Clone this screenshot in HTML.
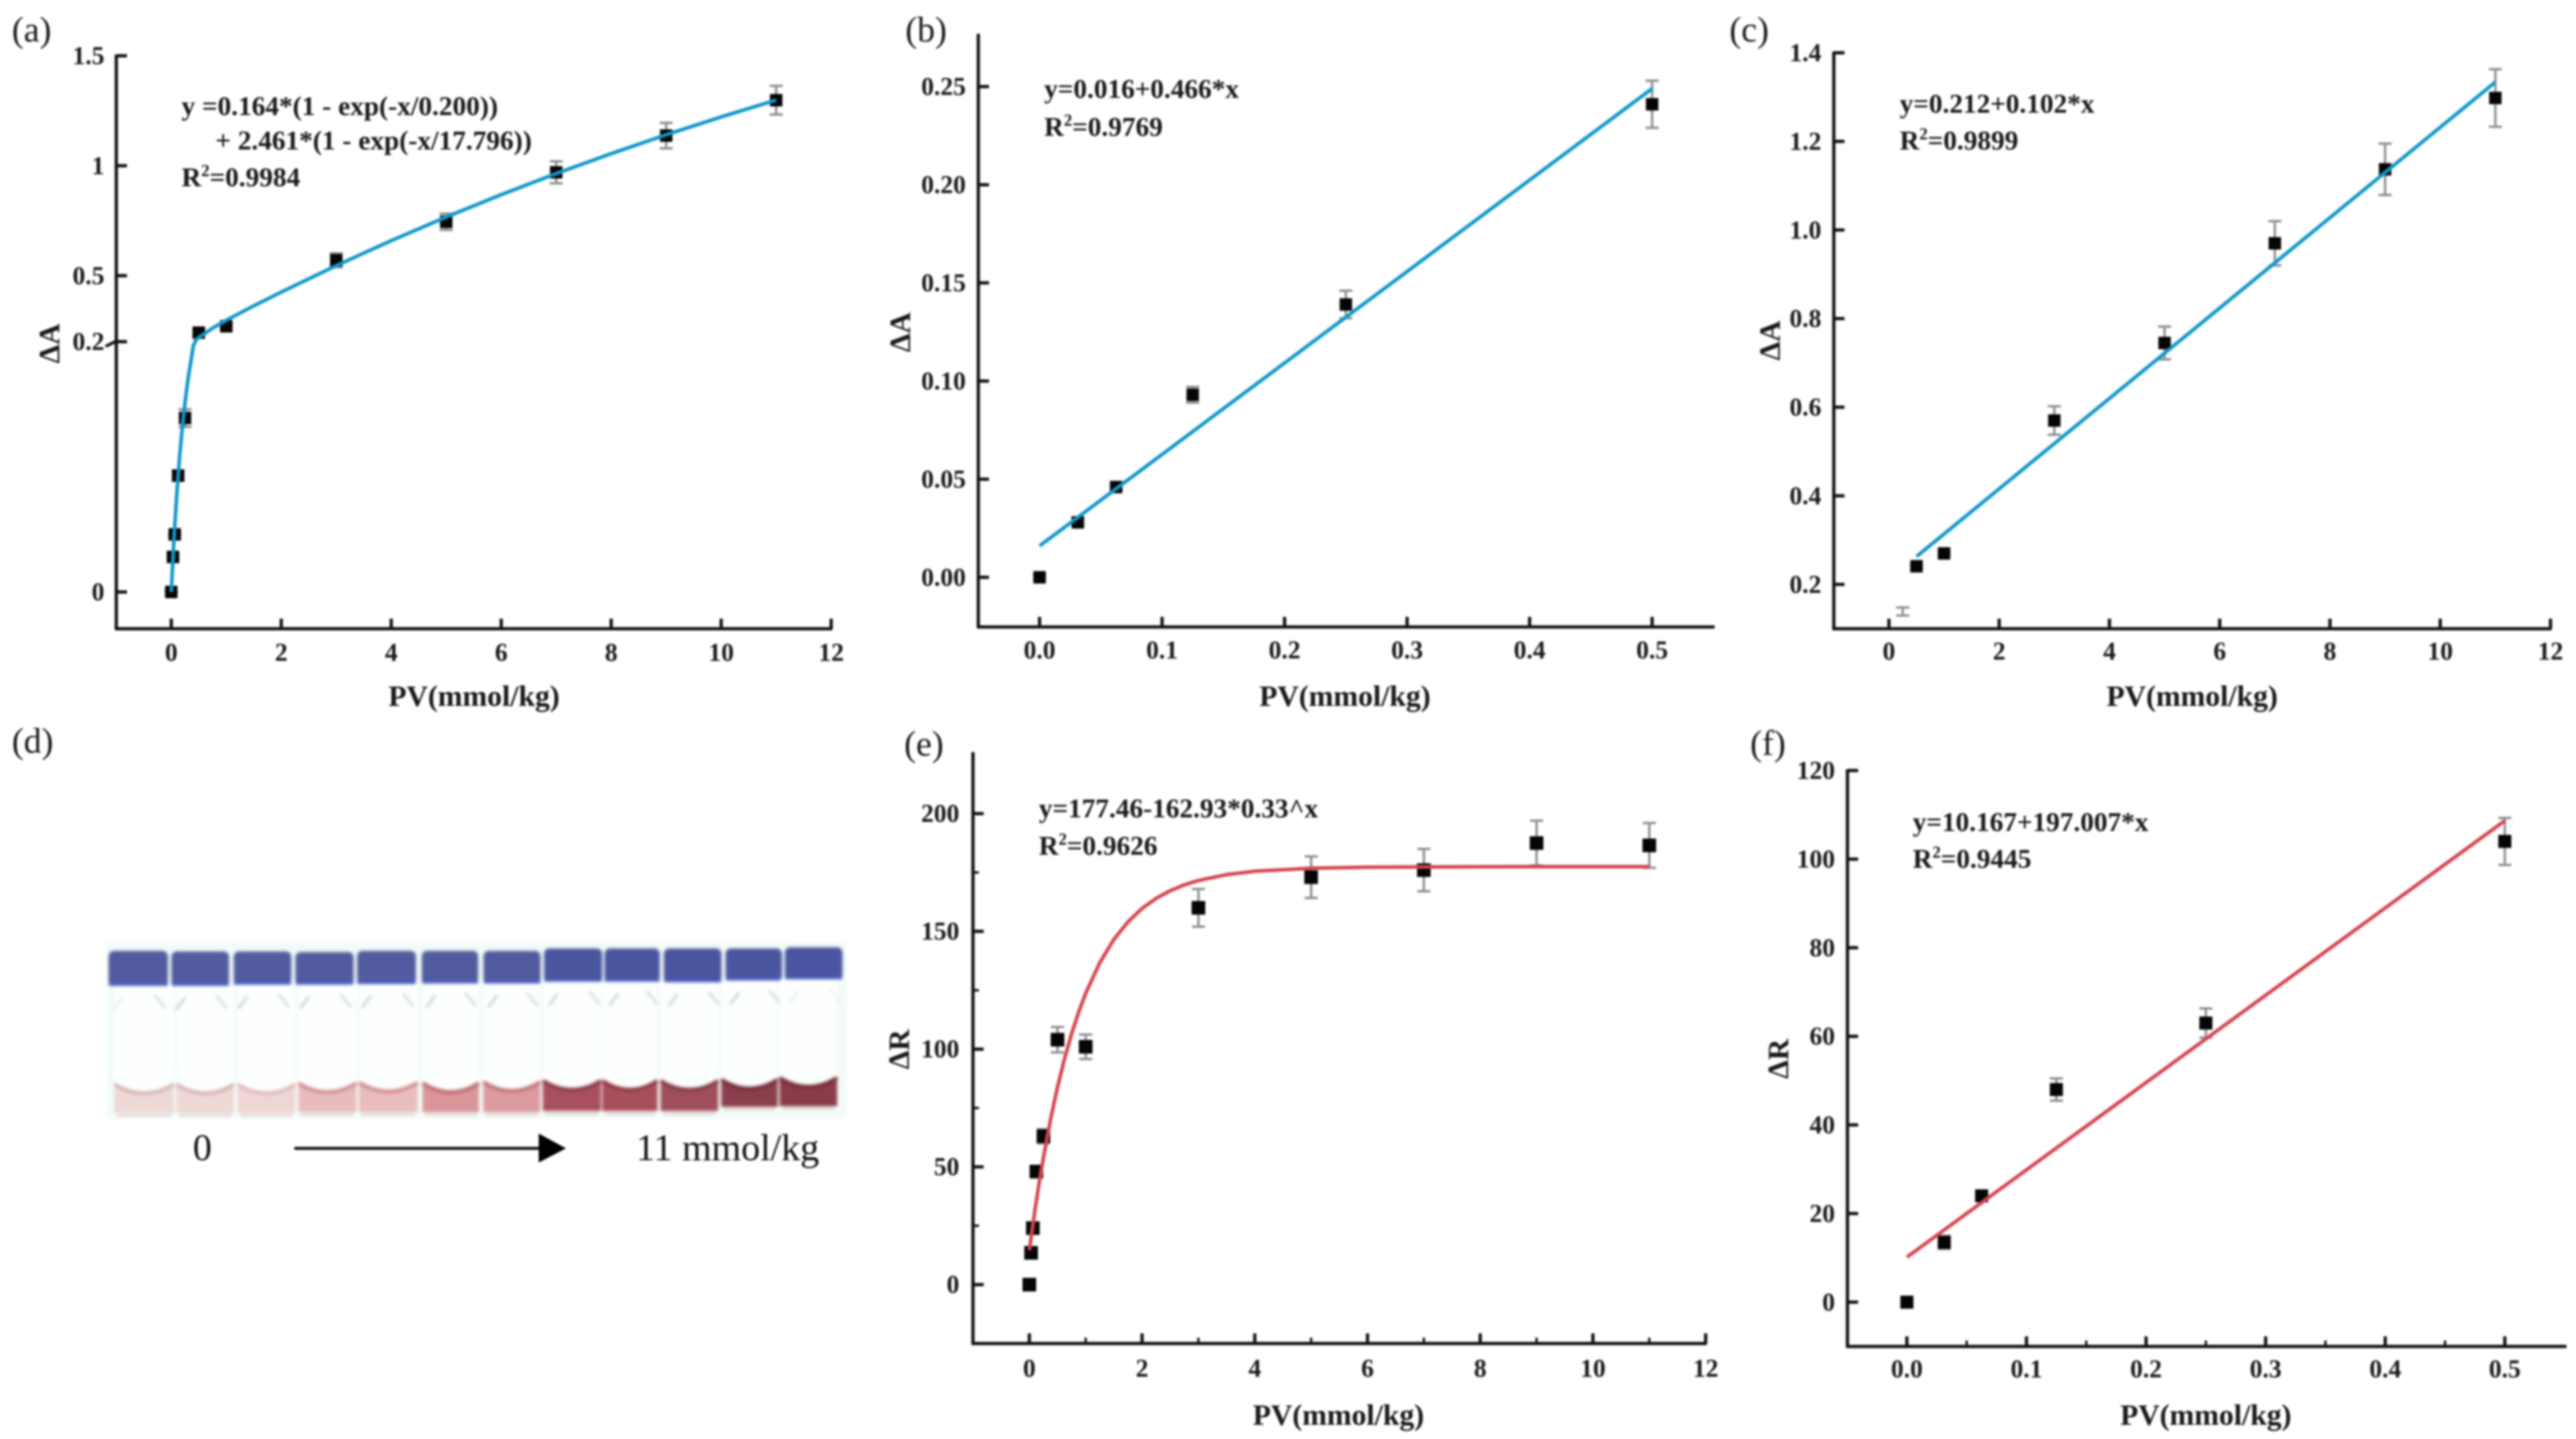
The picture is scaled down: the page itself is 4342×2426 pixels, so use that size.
<!DOCTYPE html>
<html lang="en">
<head>
<meta charset="utf-8">
<title>PV calibration charts</title>
<style>
html,body{margin:0;padding:0;background:#fff;}
#figure{display:block;width:4342px;height:2426px;filter:blur(1.8px);font-family:"Liberation Serif",serif;}
.tick{font-weight:bold;font-size:43px;fill:#1a1a1a;}
.ann{font-weight:bold;font-size:46px;fill:#1a1a1a;}
.axt{font-weight:bold;font-size:50px;fill:#1a1a1a;}
.let{font-size:60px;fill:#1a1a1a;}
.big{font-size:64px;fill:#111;}
</style>
</head>
<body>
<svg id="figure" xmlns="http://www.w3.org/2000/svg" width="4342" height="2426" viewBox="0 0 4342 2426">
  <rect width="4342" height="2426" fill="#fff"/>

  <g id="panel-a">
    <text class="let" x="20" y="70">(a)</text>
    <text class="axt" x="799" y="1190" text-anchor="middle">PV(mmol/kg)</text>
    <text class="axt" transform="translate(100 579) rotate(-90)" text-anchor="middle">ΔA</text>
    <text class="ann" x="306" y="194" xml:space="preserve">y =0.164*(1 - exp(-x/0.200))</text>
    <text class="ann" x="363" y="252" xml:space="preserve">+ 2.461*(1 - exp(-x/17.796))</text>
    <text class="ann" x="306" y="314">R<tspan dy="-17" font-size="28">2</tspan><tspan dy="17">=0.9984</tspan></text>
  </g>

  <g id="panel-b">
    <text class="let" x="1526" y="70">(b)</text>
    <text class="axt" x="2267" y="1190" text-anchor="middle">PV(mmol/kg)</text>
    <text class="axt" transform="translate(1534 560) rotate(-90)" text-anchor="middle">ΔA</text>
    <text class="ann" x="1760" y="165">y=0.016+0.466*x</text>
    <text class="ann" x="1760" y="229">R<tspan dy="-17" font-size="28">2</tspan><tspan dy="17">=0.9769</tspan></text>
  </g>

  <g id="panel-c">
    <text class="let" x="2915" y="70">(c)</text>
    <text class="axt" x="3695" y="1190" text-anchor="middle">PV(mmol/kg)</text>
    <text class="axt" transform="translate(3000 574) rotate(-90)" text-anchor="middle">ΔA</text>
    <text class="ann" x="3202" y="190">y=0.212+0.102*x</text>
    <text class="ann" x="3202" y="252">R<tspan dy="-17" font-size="28">2</tspan><tspan dy="17">=0.9899</tspan></text>
  </g>

  <g id="panel-d">
    <text class="let" x="20" y="1269">(d)</text>
    <g id="vial-photo" style="filter:blur(2.5px)">
      <rect x="181" y="1589" width="1246" height="297" fill="#f3fbf8"/>
    </g>
    <text class="big" x="341" y="1956" text-anchor="middle">0</text>
    <line x1="496" y1="1936" x2="915" y2="1936" stroke="#111" stroke-width="5"/>
    <polygon points="908,1911 954,1936 908,1960" fill="#000"/>
    <text class="big" x="1072" y="1956">11 mmol/kg</text>
  </g>

  <g id="panel-e">
    <text class="let" x="1524" y="1274">(e)</text>
    <text class="axt" x="2256" y="2402" text-anchor="middle">PV(mmol/kg)</text>
    <text class="axt" transform="translate(1532 1769) rotate(-90)" text-anchor="middle">ΔR</text>
    <text class="ann" x="1751" y="1378">y=177.46-162.93*0.33^x</text>
    <text class="ann" x="1751" y="1441">R<tspan dy="-17" font-size="28">2</tspan><tspan dy="17">=0.9626</tspan></text>
  </g>

  <g id="panel-f">
    <text class="let" x="2950" y="1273">(f)</text>
    <text class="axt" x="3718" y="2402" text-anchor="middle">PV(mmol/kg)</text>
    <text class="axt" transform="translate(3014 1785) rotate(-90)" text-anchor="middle">ΔR</text>
    <text class="ann" x="3224" y="1401">y=10.167+197.007*x</text>
    <text class="ann" x="3224" y="1463">R<tspan dy="-17" font-size="28">2</tspan><tspan dy="17">=0.9445</tspan></text>
  </g>
</svg>

<script>
// ---------- chart data ----------
const aXTickLabels = ['0','2','4','6','8','10','12'];
const aYTickLabels = ['0','0.2','0.5','1','1.5'];
const aPv = [0,0.03125,0.0625,0.125,0.25,0.5,1,3,5,7,9,11];
const aDelta = [0,0.028,0.046,0.093,0.139,0.241,0.27,0.57,0.745,0.97,1.137,1.298];
const aError = [0.001,0.002,0.001,0.004,0.007,0.012,0.012,0.032,0.037,0.05,0.058,0.065];
const aFitPv = [0,0.05,0.1,0.15,0.2,0.25,0.3,0.4,0.45,0.5,0.75,1,1.5,2,3,4,5,6,7,8,9,10,11];
const aFitDelta = [0,0.0432,0.0783,0.1072,0.1312,0.1514,0.1686,0.1965,0.2081,0.2187,0.2616,0.2974,0.3628,0.4256,0.5458,0.6594,0.7667,0.8683,0.9643,1.0551,1.1408,1.222,1.2985];

const bXTickLabels = ['0.0','0.1','0.2','0.3','0.4','0.5'];
const bYTickLabels = ['0.00','0.05','0.10','0.15','0.20','0.25'];
const bPv = [0,0.03125,0.0625,0.125,0.25,0.5];
const bDelta = [0,0.028,0.046,0.093,0.139,0.241];
const bError = [0.001,0.002,0.001,0.004,0.007,0.012];
const bFitPv = [0,0.5];
const bFitDelta = [0.016,0.249];

const cXTickLabels = ['0','2','4','6','8','10','12'];
const cYTickLabels = ['0.2','0.4','0.6','0.8','1.0','1.2','1.4'];
const cPv = [0.5,1,3,5,7,9,11];
const cDelta = [0.241,0.27,0.57,0.745,0.97,1.137,1.298];
const cError = [0.004,0.004,0.032,0.037,0.05,0.058,0.065];
const cFitPv = [0.5,11];
const cFitDelta = [0.263,1.334];
const cOrphanPv = [0.25];
const cOrphanDelta = [0.139];
const cOrphanError = [0.009];

const eXTickLabels = ['0','2','4','6','8','10','12'];
const eYTickLabels = ['0','50','100','150','200'];
const eXMinorTicks = [1,3,5,7,9,11];
const eYMinorTicks = [25,75,125,175];
const ePv = [0,0.03125,0.0625,0.125,0.25,0.5,1,3,5,7,9,11];
const eDeltaR = [0,13.5,24,48,63,104,101,160,173,176,187.5,186.5];
const eError = [0.5,1,1,2,3,5.4,5.2,8,8.8,9,9.5,9.5];
const eFitPv = [0,0.05,0.1,0.175,0.25,0.375,0.5,0.625,0.75,0.875,1,1.25,1.5,1.75,2,2.25,2.5,2.75,3,3.5,4,5,6,8,11];
const eFitDeltaR = [14.53,23.32,31.64,43.26,53.97,69.96,83.86,95.98,106.52,115.7,123.69,136.71,146.57,154.05,159.72,164.01,167.27,169.73,171.6,174.1,175.53,176.82,177.25,177.44,177.46];

const fXTickLabels = ['0.0','0.1','0.2','0.3','0.4','0.5'];
const fYTickLabels = ['0','20','40','60','80','100','120'];
const fXMinorTicks = [0.05,0.15,0.25,0.35,0.45];
const fPv = [0,0.03125,0.0625,0.125,0.25,0.5];
const fDeltaR = [0,13.5,24,48,63,104];
const fError = [0.4,1.5,1,2.5,3.3,5.3];
const fFitPv = [0,0.5];
const fFitDeltaR = [10.167,108.67];

// ---------- photo tints ----------
const vialLiquidTints = ['#ecd9d6','#ecd8d5','#eed6d4','#e8bcbc','#e9bcbe','#d9959a','#dc9ba0','#a9505f','#a84f5c','#a04e5c','#8b3f4c','#8a3c48'];
const vialMeniscusTints = ['#d8b5b0','#d8b3ae','#e0b8b6','#d28a8c','#d28a8e','#bd6670','#c06e76','#8a3443','#8a3443','#843442','#6f2a36','#6f2833'];

const NS = 'http://www.w3.org/2000/svg';
function mk(tag, attrs, parent) {
  const el = document.createElementNS(NS, tag);
  for (const k in attrs) el.setAttribute(k, attrs[k]);
  parent.appendChild(el);
  return el;
}

// ---------- axis functions ----------
function linearX(p) { return v => p.left + (v - p.xMin) / (p.xMax - p.xMin) * (p.right - p.left); }
function linearY(p) { return v => p.bottom - (v - p.yMin) / (p.yMax - p.yMin) * (p.bottom - p.top); }
function brokenY(p) {
  return v => v <= p.breakValue
    ? p.zeroPx + (v / p.breakValue) * (p.breakPx - p.zeroPx)
    : p.breakPx + ((v - p.breakValue) / (p.yMax - p.breakValue)) * (p.top - p.breakPx);
}

function drawAxes(p, sx, sy, xLabels, yLabels, xMinor, yMinor) {
  const g = document.getElementById(p.group);
  const yAxis = mk('line', {x1:p.left, y1:p.top - 2, x2:p.left, y2:p.bottom + 2, stroke:'#111', 'stroke-width':5.5}, g);
  
  
  const xAxis = mk('line', {x1:p.left - 2, y1:p.bottom, x2:p.right + 2, y2:p.bottom, stroke:'#111', 'stroke-width':5.5}, g);
  
  

  xLabels.forEach(label => {
    const x = sx(Number(label));
    const tick = mk('line', {x1:x, y1:p.bottom, x2:x, y2:p.bottom - 17, stroke:'#111', 'stroke-width':5.5}, g);
    
    
    const text = mk('text', {x:x, y:p.xLabelY, 'text-anchor':'middle', class:'tick'}, g);
    text.textContent = label;
    
    
  });
  yLabels.forEach(label => {
    const y = sy(Number(label));
    const tick = mk('line', {x1:p.left, y1:y, x2:p.left + 18, y2:y, stroke:'#111', 'stroke-width':5.5}, g);
    
    
    const text = mk('text', {x:p.yLabelX, y:y + 14, 'text-anchor':'end', class:'tick'}, g);
    text.textContent = label;
    
    
  });
  (xMinor || []).forEach(v => {
    const x = sx(v);
    const tick = mk('line', {x1:x, y1:p.bottom, x2:x, y2:p.bottom - 10, stroke:'#111', 'stroke-width':4}, g);
    
    
  });
  (yMinor || []).forEach(v => {
    const y = sy(v);
    const tick = mk('line', {x1:p.left, y1:y, x2:p.left + 10, y2:y, stroke:'#111', 'stroke-width':4}, g);
    
    
  });
}

function drawErrorBars(p, sx, sy, xs, ys, errs) {
  const g = document.getElementById(p.group);
  xs.forEach((xv, i) => {
    const x = sx(xv), hi = sy(ys[i] + errs[i]), lo = sy(ys[i] - errs[i]);
    const bar = mk('path', {
      d:'M' + x + ' ' + hi + 'V' + lo + 'M' + (x - 11) + ' ' + hi + 'H' + (x + 11) + 'M' + (x - 11) + ' ' + lo + 'H' + (x + 11),
      fill:'none', stroke:'#8e8e8e', 'stroke-width':4
    }, g);
    
    
  });
}

function drawMarkers(p, sx, sy, xs, ys) {
  const g = document.getElementById(p.group);
  xs.forEach((xv, i) => {
    const m = mk('rect', {x:sx(xv) - p.marker / 2, y:sy(ys[i]) - p.marker / 2, width:p.marker, height:p.marker, fill:'#050505'}, g);
    
    
  });
}

function drawFit(p, sx, sy, xs, ys) {
  const g = document.getElementById(p.group);
  const pts = xs.map((xv, i) => sx(xv).toFixed(1) + ',' + sy(ys[i]).toFixed(1)).join(' ');
  const line = mk('polyline', {points:pts, fill:'none', stroke:p.fitColor, 'stroke-width':6, 'stroke-linejoin':'round', 'stroke-linecap':'butt'}, g);
  
  
}

// ---------- panel layouts ----------
const BLUE = '#0f97c9', RED = '#d6434f';
const layoutA = {group:'panel-a', left:196, right:1401, top:94, bottom:1060, xMin:-1, xMax:12, yMax:1.5, breakValue:0.2, breakPx:576, zeroPx:998, xLabelY:1114, yLabelX:176, marker:21, fitColor:BLUE};
const layoutB = {group:'panel-b', left:1649, right:2888, top:59, bottom:1057, xMin:-0.05, xMax:0.55, yMin:-0.0253, yMax:0.2763, xLabelY:1110, yLabelX:1628, marker:21, fitColor:BLUE};
const layoutC = {group:'panel-c', left:3091, right:4299, top:89, bottom:1060, xMin:-1, xMax:12, yMin:0.1, yMax:1.4, xLabelY:1112, yLabelX:3070, marker:21, fitColor:BLUE};
const layoutE = {group:'panel-e', left:1640, right:2875, top:1270, bottom:2265, xMin:-1, xMax:12, yMin:-25, yMax:225.6, xLabelY:2321, yLabelX:1617, marker:23, fitColor:RED};
const layoutF = {group:'panel-f', left:3114, right:4324, top:1299, bottom:2270, xMin:-0.0497, xMax:0.5506, yMin:-10, yMax:120, xLabelY:2322, yLabelX:3093, marker:22, fitColor:RED};

// panel a
const ax = linearX(layoutA), ay = brokenY(layoutA);
drawAxes(layoutA, ax, ay, aXTickLabels, aYTickLabels);
const axisBreak = mk('line', {x1:178, y1:584, x2:194, y2:576, stroke:'#111', 'stroke-width':5}, document.getElementById('panel-a'));


drawErrorBars(layoutA, ax, ay, aPv, aDelta, aError);
drawMarkers(layoutA, ax, ay, aPv, aDelta);
drawFit(layoutA, ax, ay, aFitPv, aFitDelta);

// panel b
const bx = linearX(layoutB), by = linearY(layoutB);
drawAxes(layoutB, bx, by, bXTickLabels, bYTickLabels);
drawErrorBars(layoutB, bx, by, bPv, bDelta, bError);
drawMarkers(layoutB, bx, by, bPv, bDelta);
drawFit(layoutB, bx, by, bFitPv, bFitDelta);

// panel c
const cx = linearX(layoutC), cy = linearY(layoutC);
drawAxes(layoutC, cx, cy, cXTickLabels, cYTickLabels);
drawErrorBars(layoutC, cx, cy, cPv, cDelta, cError);
drawErrorBars(layoutC, cx, cy, cOrphanPv, cOrphanDelta, cOrphanError);
drawMarkers(layoutC, cx, cy, cPv, cDelta);
drawFit(layoutC, cx, cy, cFitPv, cFitDelta);

// panel e
const ex = linearX(layoutE), ey = linearY(layoutE);
drawAxes(layoutE, ex, ey, eXTickLabels, eYTickLabels, eXMinorTicks, eYMinorTicks);
drawErrorBars(layoutE, ex, ey, ePv, eDeltaR, eError);
drawMarkers(layoutE, ex, ey, ePv, eDeltaR);
drawFit(layoutE, ex, ey, eFitPv, eFitDeltaR);

// panel f
const fx = linearX(layoutF), fy = linearY(layoutF);
drawAxes(layoutF, fx, fy, fXTickLabels, fYTickLabels, fXMinorTicks);
drawErrorBars(layoutF, fx, fy, fPv, fDeltaR, fError);
drawMarkers(layoutF, fx, fy, fPv, fDeltaR);
drawFit(layoutF, fx, fy, fFitPv, fFitDeltaR);

// ---------- vial photo (panel d) ----------
(function () {
  const photo = document.getElementById('vial-photo');
  const capLeft = [183,289,394,498,602,711,815,917,1019,1119,1223,1323];
  const capRight = [283,386,491,596,701,806,911,1015,1112,1216,1318,1420];
  const capTop = [1603,1604,1604,1605,1603,1603,1603,1599,1599,1599,1599,1597];
  const capBottom = [1662,1662,1660,1660,1659,1658,1658,1655,1655,1656,1653,1651];
  const edgeY = [1828,1828,1828,1826,1825,1826,1824,1822,1822,1822,1820,1817];
  const baseY = [1877,1877,1877,1875,1875,1875,1875,1873,1873,1873,1866,1865];
  capLeft.forEach((left, i) => {
    const shift = 10 - 19 * i / 11;
    const right = capRight[i];
    const l = left + shift, r = right + shift;
    const body = mk('rect', {x:l, y:capBottom[i], width:r - l, height:baseY[i] + 7 - capBottom[i], fill:'#fcfffe'}, photo);
    
    
    const liquid = mk('path', {d:'M' + l + ' ' + edgeY[i] + 'Q' + (l + r) / 2 + ' ' + (edgeY[i] + 30) + ' ' + r + ' ' + edgeY[i] + 'V' + baseY[i] + 'H' + l + 'Z', fill:vialLiquidTints[i]}, photo);
    
    
    const meniscus = mk('path', {d:'M' + l + ' ' + edgeY[i] + 'Q' + (l + r) / 2 + ' ' + (edgeY[i] + 30) + ' ' + r + ' ' + edgeY[i], fill:'none', stroke:vialMeniscusTints[i], 'stroke-width':6}, photo);
    
    
    const base = mk('line', {x1:l + 4, y1:baseY[i] + 4, x2:r - 4, y2:baseY[i] + 4, stroke:'#d9d6d0', 'stroke-width':4}, photo);
    
    
    const neckL = mk('line', {x1:left + 23, y1:capBottom[i] + 20, x2:left + 8, y2:capBottom[i] + 40, stroke:'#8f90aa', 'stroke-width':3, opacity:i === 0 || i === 11 ? 0.2 : 0.6}, photo);
    
    
    const neckR = mk('line', {x1:right - 22, y1:capBottom[i] + 16, x2:right - 4, y2:capBottom[i] + 38, stroke:'#8f90aa', 'stroke-width':3, opacity:i === 11 ? 0.15 : 0.45}, photo);
    
    
    const cap = mk('rect', {x:left, y:capTop[i], width:right - left, height:capBottom[i] - capTop[i], rx:9, fill:i > 6 ? '#4a559f' : '#525b9f'}, photo);
    
    
    const rim = mk('rect', {x:left, y:capBottom[i] - 6, width:right - left, height:6, rx:3, fill:'#4658b8'}, photo);
    
    
  });
})();
</script>
</body>
</html>
